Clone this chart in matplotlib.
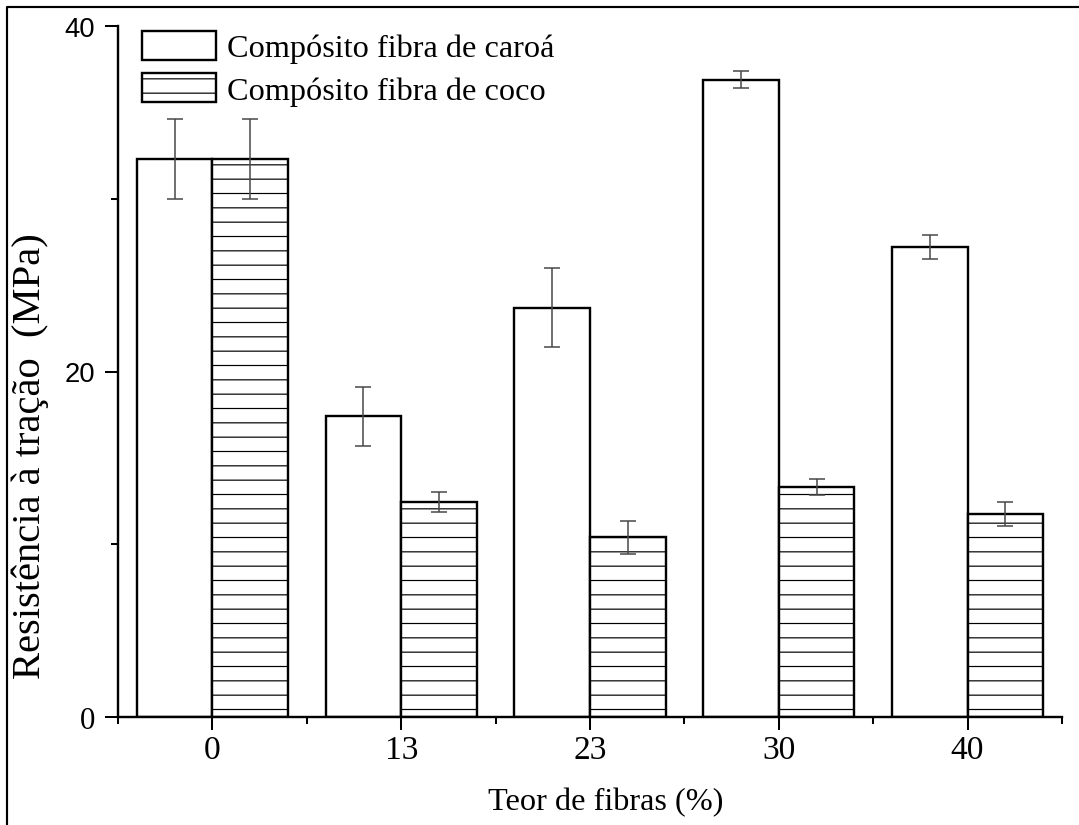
import matplotlib
matplotlib.use("Agg")
import matplotlib.pyplot as plt
from matplotlib.lines import Line2D
from matplotlib.patches import Patch
import numpy as np

# dados de resistência à tração (MPa)
teor = ["0", "13", "23", "30", "40"]
caroa = [32.3, 17.4, 23.7, 36.9, 27.2]
caroa_err = [2.3, 1.7, 2.3, 0.5, 0.7]
coco = [32.3, 12.45, 10.4, 13.3, 11.75]
coco_err = [2.3, 0.6, 0.95, 0.46, 0.7]

DPI = 86
plt.rcParams["font.family"] = ["Liberation Serif", "DejaVu Serif"]
plt.rcParams["hatch.linewidth"] = 1.0
plt.rcParams["axes.linewidth"] = 2.0

fig = plt.figure(figsize=(1079 / DPI, 826 / DPI), dpi=DPI)
ax = fig.add_axes([118 / 1079, 1 - 718 / 826, (1062 - 118) / 1079, (718 - 27) / 826])

x = np.arange(1, len(teor) + 1)
w = 0.4
ax.bar(x - w / 2, caroa, w, color="white", edgecolor="black", linewidth=2.0, zorder=2)
ax.bar(x + w / 2, coco, w, color="white", edgecolor="black", linewidth=2.0,
       hatch="-", zorder=2)
ax.errorbar(x - w / 2, caroa, yerr=caroa_err, fmt="none", ecolor="#4a4a4a",
            elinewidth=1.3, capsize=7, capthick=1.3, zorder=3)
ax.errorbar(x + w / 2, coco, yerr=coco_err, fmt="none", ecolor="#4a4a4a",
            elinewidth=1.3, capsize=7, capthick=1.3, zorder=3)

ax.set_xlim(0.5, 5.5)
ax.set_ylim(0, 40)
ax.spines["top"].set_visible(False)
ax.spines["right"].set_visible(False)

ax.set_xticks(x)
ax.set_xticklabels(teor, fontsize=28)
ax.set_xticks(np.arange(0.5, 5.6, 1.0), minor=True)
ax.set_yticks([0, 20, 40])
ax.set_yticks([10, 30], minor=True)
ax.tick_params(axis="both", which="major", length=11, width=1.7, direction="out")
ax.tick_params(axis="both", which="minor", length=5.5, width=1.7, direction="out")
ax.tick_params(axis="x", pad=4)
ax.tick_params(axis="y", pad=8)
ax.set_yticklabels(["0", "20", "40"])
for lbl in ax.get_yticklabels():
    if lbl.get_text() == "0":
        lbl.set_fontsize(26)
    else:
        lbl.set_family(["Liberation Sans", "DejaVu Sans"])
        lbl.set_fontsize(23)

fig.text(606 / 1079, 1 - 803 / 826, "Teor de fibras (%)", fontsize=27,
         ha="center", va="center")
fig.text(30 / 1079, 1 - 456 / 826, "Resistência à tração  (MPa)", fontsize=34,
         rotation=90, ha="center", va="center")

handles = [Patch(facecolor="white", edgecolor="black", linewidth=2.0),
           Patch(facecolor="white", edgecolor="black", linewidth=2.0, hatch="-")]
ax.legend(handles, ["Compósito fibra de caroá", "Compósito fibra de coco"],
          loc="upper left", bbox_to_anchor=(24 / 944, 1 - 5 / 691), frameon=False,
          fontsize=27, handlelength=2.3, handleheight=1.0, handletextpad=0.35,
          labelspacing=0.3, borderpad=0, borderaxespad=0)

# moldura da imagem
fig.add_artist(Line2D([7 / 1079, 7 / 1079, 1.0], [0.0, 1 - 8 / 826, 1 - 8 / 826],
                      transform=fig.transFigure, color="black", linewidth=1.8))

fig.savefig("out.png", dpi=DPI)
